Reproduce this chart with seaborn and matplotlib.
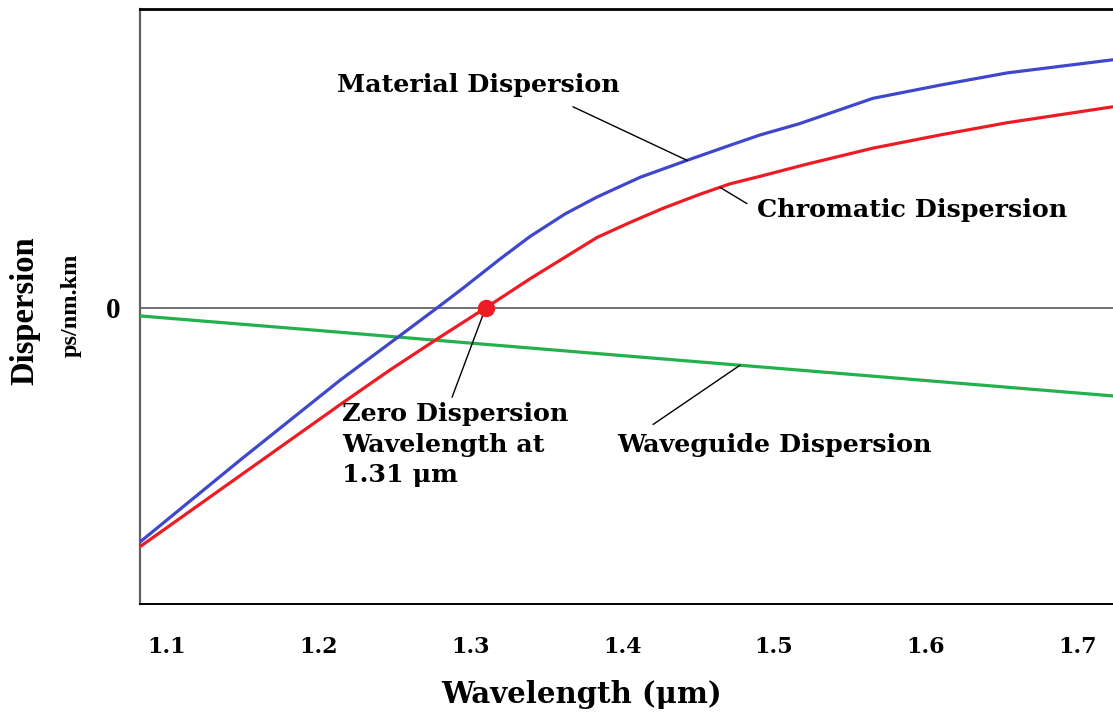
import numpy as np
import pandas as pd
import matplotlib
matplotlib.use("Agg")
import matplotlib.pyplot as plt
import seaborn as sns

# Wavelength (um) and dispersion (ps/nm.km) samples for each curve
material_wl = [1.0822, 1.1481, 1.2140, 1.2523, 1.2780, 1.2951, 1.3195, 1.3393,
               1.3624, 1.3835, 1.4119, 1.4428, 1.4711, 1.4909, 1.5169,
               1.5654, 1.6096, 1.6537, 1.7236]
material_d = [-24.9, -16.2, -7.7, -3.1, 0.0, 2.1, 5.2, 7.6,
              10.0, 11.8, 13.9, 15.7, 17.3, 18.4, 19.6,
              22.3, 23.7, 25.0, 26.4]

chromatic_wl = [1.0822, 1.2140, 1.2470, 1.2800, 1.3100, 1.3393, 1.3835, 1.4053,
                1.4270, 1.4514, 1.4711, 1.4909, 1.5219, 1.5654, 1.6096,
                1.6537, 1.7236]
chromatic_d = [-25.4, -10.3, -6.6, -3.1, 0.0, 3.1, 7.5, 9.1,
               10.6, 12.1, 13.2, 14.0, 15.3, 17.0, 18.4,
               19.7, 21.4]

waveguide_wl = [1.0822, 1.2, 1.3, 1.4, 1.5, 1.6, 1.7236]
waveguide_d = [-0.85, -2.4, -3.74, -5.07, -6.39, -7.72, -9.36]

zero_dispersion_wl = 1.31
xticks = [1.1, 1.2, 1.3, 1.4, 1.5, 1.6, 1.7]
xtick_labels = ["1.1", "1.2", "1.3", "1.4", "1.5", "1.6", "1.7"]

series_names = ["Waveguide", "Material", "Chromatic"]
colors = {"Material": "#3F48CC", "Chromatic": "#ED1C24", "Waveguide": "#22B14C"}

df = pd.concat([
    pd.DataFrame({"wl": waveguide_wl, "d": waveguide_d, "s": "Waveguide"}),
    pd.DataFrame({"wl": material_wl, "d": material_d, "s": "Material"}),
    pd.DataFrame({"wl": chromatic_wl, "d": chromatic_d, "s": "Chromatic"}),
], ignore_index=True)

sns.set_style("white")
plt.rcParams.update({"text.color": "black", "axes.labelcolor": "black",
                     "xtick.color": "black", "ytick.color": "black"})
fig = plt.figure(figsize=(11.13, 7.15), dpi=100)
ax = fig.add_axes([0.1258, 0.1552, 0.8742, 0.8322])

# zero-dispersion reference line
ax.axhline(0, color="#707070", lw=1.4, zorder=1)

sns.lineplot(data=df, x="wl", y="d", hue="s", hue_order=series_names,
             palette=colors, sort=False, lw=2.3, legend=False, ax=ax, zorder=3)

ax.plot([zero_dispersion_wl], [0], "o", color="#ED1C24", ms=11.5, zorder=5)

ax.set_xlim(1.0822, 1.7236)
ax.set_ylim(-31.5, 31.8)

ax.set_xticks(xticks)
ax.set_xticklabels(xtick_labels, family="DejaVu Serif", fontweight="bold",
                   fontsize=16)
ax.set_yticks([0])
ax.set_yticklabels(["0"], family="Liberation Serif", fontweight="bold",
                   fontsize=21)
ax.tick_params(axis="x", length=0, pad=23)
ax.tick_params(axis="y", length=0, pad=14)

ax.set_xlabel("Wavelength (\u03bcm)", family="DejaVu Serif",
              fontweight="bold", fontsize=21)
ax.xaxis.set_label_coords(0.454, -0.128)
ax.set_ylabel("")

fig.text(0.0225, 0.566, "Dispersion", rotation=90, ha="center", va="center",
         family="Liberation Serif", fontweight="bold", fontsize=23.5)
fig.text(0.0638, 0.573, "ps/nm.km", rotation=90, ha="center", va="center",
         family="Liberation Serif", fontweight="bold", fontsize=17.5)

for side in ["left", "top", "bottom"]:
    ax.spines[side].set_visible(True)
ax.spines["right"].set_visible(False)
ax.spines["left"].set_color("#606060")
ax.spines["left"].set_linewidth(1.6)
ax.spines["top"].set_color("black")
ax.spines["top"].set_linewidth(2.0)
ax.spines["bottom"].set_color("black")
ax.spines["bottom"].set_linewidth(1.4)

txt = dict(family="DejaVu Serif", fontweight="bold", fontsize=18.3,
           color="black")
lead = dict(arrowstyle="-", color="black", lw=1.0, shrinkA=0, shrinkB=0)

ax.text(1.2121, 23.7, "Material Dispersion", ha="left", va="center", **txt)
ax.annotate("", xy=(1.4428, np.interp(1.4428, material_wl, material_d)),
            xytext=(1.3676, 21.4), arrowprops=lead)

ax.text(1.4889, 10.4, "Chromatic Dispersion", ha="left", va="center", **txt)
ax.annotate("", xy=(1.4645, np.interp(1.4645, chromatic_wl, chromatic_d)),
            xytext=(1.4823, 11.1), arrowprops=lead)

ax.text(1.3966, -14.6, "Waveguide Dispersion", ha="left", va="center", **txt)
ax.annotate("", xy=(1.4777, np.interp(1.4777, waveguide_wl, waveguide_d)),
            xytext=(1.4204, -12.4), arrowprops=lead)

ax.text(1.2154, -10.0, "Zero Dispersion\nWavelength at\n1.31 \u03bcm",
        ha="left", va="top", linespacing=1.35, **txt)
ax.annotate("", xy=(zero_dispersion_wl, 0), xytext=(1.2879, -9.5),
            arrowprops=lead)

fig.savefig("out.png", dpi=100)
